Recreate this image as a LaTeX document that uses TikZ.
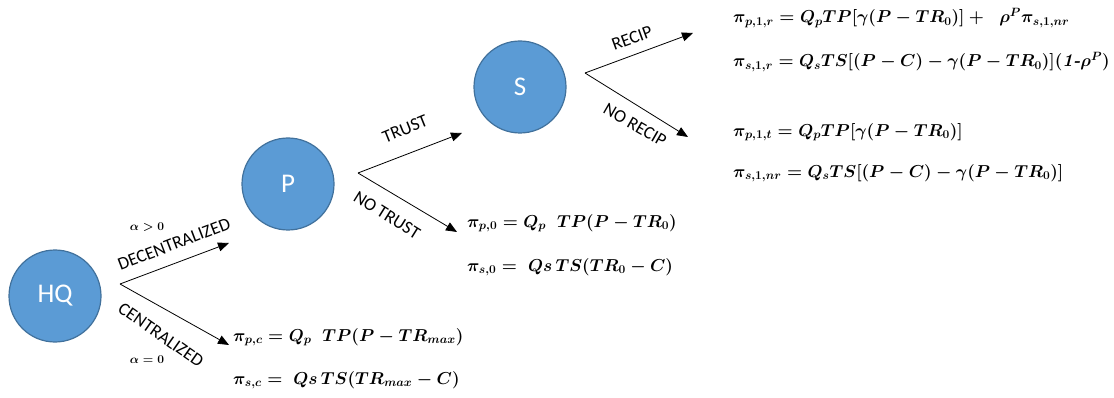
\documentclass[tikz,border=0pt]{standalone}
\usepackage{amsmath,amssymb}
\usepackage{fontspec}
\setsansfont{Carlito}
\usepackage{tikz}
\usetikzlibrary{positioning,arrows.meta}
\definecolor{pl}{HTML}{5B9BD5}
\definecolor{pldraw}{HTML}{41719C}

\begin{document}
\begin{tikzpicture}[x=1pt,y=-1pt,>={Triangle[length=11pt,width=9pt]}]
\tikzstyle{pn}=[circle,draw=pldraw,line width=1.2pt,fill=pl,minimum size=92pt,inner sep=0pt,text=white,font=\sffamily\fontsize{27}{27}\selectfont]
\tikzstyle{lb}=[font=\sffamily\fontsize{18}{18}\selectfont,inner sep=0pt]
\tikzstyle{eq}=[anchor=west,inner sep=0pt,font=\fontsize{18}{20}\selectfont\boldmath]
\tikzstyle{al}=[inner sep=0pt,font=\fontsize{12}{12}\selectfont\boldmath]
\tikzstyle{br}=[->,line width=0.8pt]
\useasboundingbox (0,0) rectangle (1114,398);
\node[pn] (hq) at (55,296) {HQ};
\node[pn] (p) at (288,184) {P};
\node[pn] (s) at (520,87) {S};
\coordinate (hqb) at (120,284);
\coordinate (pb) at (358,173);
\coordinate (sb) at (585,73);
\coordinate (dec) at (229,243);
\coordinate (cen) at (229,345);
\coordinate (tr) at (462,133);
\coordinate (ntr) at (457,232);
\coordinate (rc) at (693,33);
\coordinate (nrc) at (688,137);
\draw[br] (hqb) -- (dec);
\draw[br] (hqb) -- (cen);
\draw[br] (pb) -- (tr);
\draw[br] (pb) -- (ntr);
\draw[br] (sb) -- (rc);
\draw[br] (sb) -- (nrc);
\node[lb,rotate=21] (ldec) at (174,244) {DECENTRALIZED};
\node[lb,rotate=-35] (lcen) at (161,335) {CENTRALIZED};
\node[lb,rotate=22] (ltr) at (405,129) {TRUST};
\node[lb,rotate=-32] (lntr) at (387,215) {NO TRUST};
\node[lb,rotate=20] (lrc) at (632,38) {RECIP};
\node[lb,rotate=-30] (lnrc) at (635,125) {NO RECIP};
\node[al] (apos) at (147,227) {$\alpha>0$};
\node[al] (azero) at (147,360) {$\alpha=0$};
\node[eq] (pc) at (233,337) {$\pi_{p,c} = Q_p\ \ TP(P-TR_{max})$};
\node[eq] (sc) at (233,380) {$\pi_{s,c} =\ Qs\,TS(TR_{max}-C)$};
\node[eq] (p0) at (467,223) {$\pi_{p,0} = Q_p\ \ TP(P-TR_0)$};
\node[eq] (s0) at (467,267) {$\pi_{s,0} =\ Qs\,TS(TR_0-C)$};
\node[eq] (p1r) at (733,18) {$\pi_{p,1,r} = Q_pTP[\gamma(P-TR_0)] +\ \ \rho^P\pi_{s,1,nr}$};
\node[eq] (s1r) at (733,62) {$\pi_{s,1,r} = Q_sTS[(P-C)-\gamma(P-TR_0)](\textbf{\textit{1-}}\rho^P)$};
\node[eq] (p1t) at (733,132) {$\pi_{p,1,t} = Q_pTP[\gamma(P-TR_0)]$};
\node[eq] (s1nr) at (733,173) {$\pi_{s,1,nr} = Q_sTS[(P-C)-\gamma(P-TR_0)]$};
\end{tikzpicture}
\end{document}
